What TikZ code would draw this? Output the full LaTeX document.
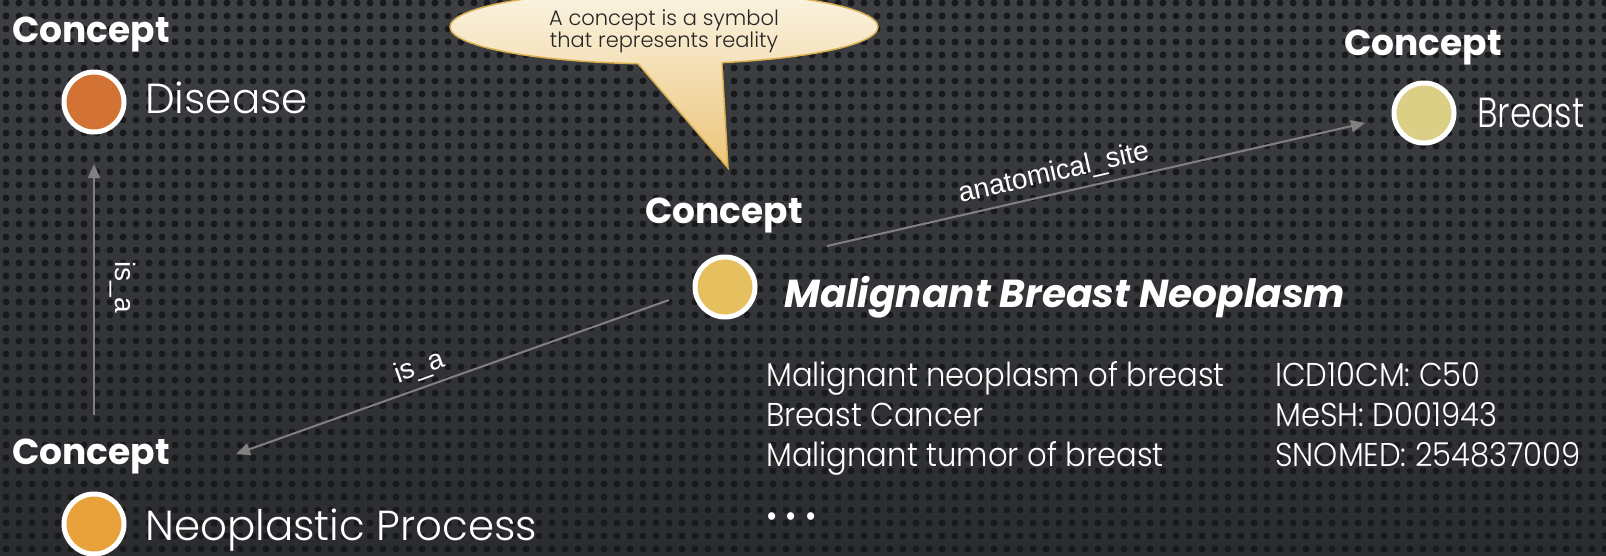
\documentclass[tikz,border=0pt]{standalone}
\usepackage{fontspec}
\setmainfont{Poppins}[UprightFont=* Light,BoldFont=* Bold,ItalicFont=* Light Italic,BoldItalicFont=* Bold Italic]
\newfontfamily\edgefont{Liberation Sans}
\usetikzlibrary{arrows.meta,patterns.meta}
\definecolor{bgtop}{HTML}{3D3F43}
\definecolor{bgbot}{HTML}{2B2C2F}
\definecolor{dotc}{HTML}{18191B}
\definecolor{arrowgray}{HTML}{808080}
\definecolor{diseasec}{HTML}{D27335}
\definecolor{neoc}{HTML}{E9A23B}
\definecolor{mainc}{HTML}{E6BF5E}
\definecolor{breastc}{HTML}{DACF84}
\definecolor{creamtop}{HTML}{FBF3E2}
\definecolor{creammid}{HTML}{F5E2BA}
\definecolor{creambot}{HTML}{EDC57A}
\definecolor{balloonedge}{HTML}{D9AE4E}
\tikzdeclarepattern{
  name=perforation,
  type=uncolored,
  bounding box={(0pt,0pt) and (12.5pt,12.5pt)},
  tile size={(12.5pt,12.5pt)},
  code={\fill (6.25pt,6.25pt) circle [radius=3.6pt];}
}

\begin{document}
\begin{tikzpicture}[x=1pt,y=-1pt,>={Triangle[length=14pt,width=12pt]},
  kind/.style={font=\fontsize{36}{40}\selectfont\bfseries,text=white,inner sep=0pt,anchor=base west},
  dot/.style={circle,draw=white,line width=5pt,minimum size=60pt,inner sep=0pt},
  term/.style={font=\fontsize{42}{48}\selectfont,text=white,inner sep=0pt,anchor=base west},
  rel/.style={->,draw=arrowgray,line width=2pt},
  rellabel/.style={font=\edgefont\fontsize{28}{30}\selectfont,text=white},
  entry/.style={font=\fontsize{33}{36}\selectfont\addfontfeature{FakeStretch=0.93},text=white,inner sep=0pt,anchor=base west}]
\useasboundingbox (0,0) rectangle (1606,555);
\fill[top color=bgtop,bottom color=bgbot] (0,0) rectangle (1606,555);
\fill[pattern=perforation,pattern color=dotc] (0,0) rectangle (1606,555);

\coordinate (balloon) at (664,27);
\shade[top color=creamtop,bottom color=creammid,draw=balloonedge,line width=1.5pt]
  (balloon) ellipse [x radius=214,y radius=37];
\shade[top color=creammid,bottom color=creambot] (631.4,56) -- (728,168) -- (721.6,56) -- cycle;
\draw[balloonedge,line width=1.5pt] (638,63.7) -- (728,168) -- (722,62.6);
\node[font=\fontsize{21}{21}\selectfont,text=black!85,align=center] (note) at (664,31)
  {A concept is a symbol\\that represents reality};

\node[kind] (kdisease) at (12,42) {Concept};
\node[dot,fill=diseasec] (disease) at (94,102) {};
\node[term] (tdisease) at (145,113) {Disease};

\node[kind] (kneo) at (12,464) {Concept};
\node[dot,fill=neoc] (neo) at (94,524) {};
\node[term] (tneo) at (145,540) {Neoplastic Process};

\node[kind] (kmain) at (645,223) {Concept};
\node[dot,fill=mainc] (main) at (725,287) {};
\node[term,font=\fontsize{39}{44}\selectfont\bfseries\itshape] (tmain) at (784,307) {Malignant Breast Neoplasm};

\node[kind] (kbreast) at (1344,55) {Concept};
\node[dot,fill=breastc] (breast) at (1424,113) {};
\node[term,font=\fontsize{42}{48}\selectfont\addfontfeature{FakeStretch=0.82}] (tbreast) at (1477,127) {Breast};

\coordinate (isa1-s) at (94,415);
\coordinate (isa1-e) at (94,164);
\draw[rel] (isa1-s) -- (isa1-e)
  node[pos=0.51,rellabel,rotate=-90,anchor=south,inner sep=15pt] {is\_a};
\coordinate (isa2-s) at (669,300);
\coordinate (isa2-e) at (236,454);
\draw[rel] (isa2-s) -- (isa2-e) node[pos=0.56,sloped,above,rellabel,inner sep=6pt] {is\_a};
\coordinate (site-s) at (827,246);
\coordinate (site-e) at (1365,123);
\draw[rel] (site-s) -- (site-e) node[pos=0.43,sloped,above,rellabel,inner sep=6pt] {anatomical\_site};

\node[entry] (syn1) at (766,386) {Malignant neoplasm of breast};
\node[entry] (syn2) at (766,426) {Breast Cancer};
\node[entry] (syn3) at (766,466) {Malignant tumor of breast};
\node[entry] (more) at (766,527) {• • •};
\node[entry] (code1) at (1275,386) {ICD10CM: C50};
\node[entry] (code2) at (1275,426) {MeSH: D001943};
\node[entry] (code3) at (1275,466) {SNOMED: 254837009};
\end{tikzpicture}
\end{document}
